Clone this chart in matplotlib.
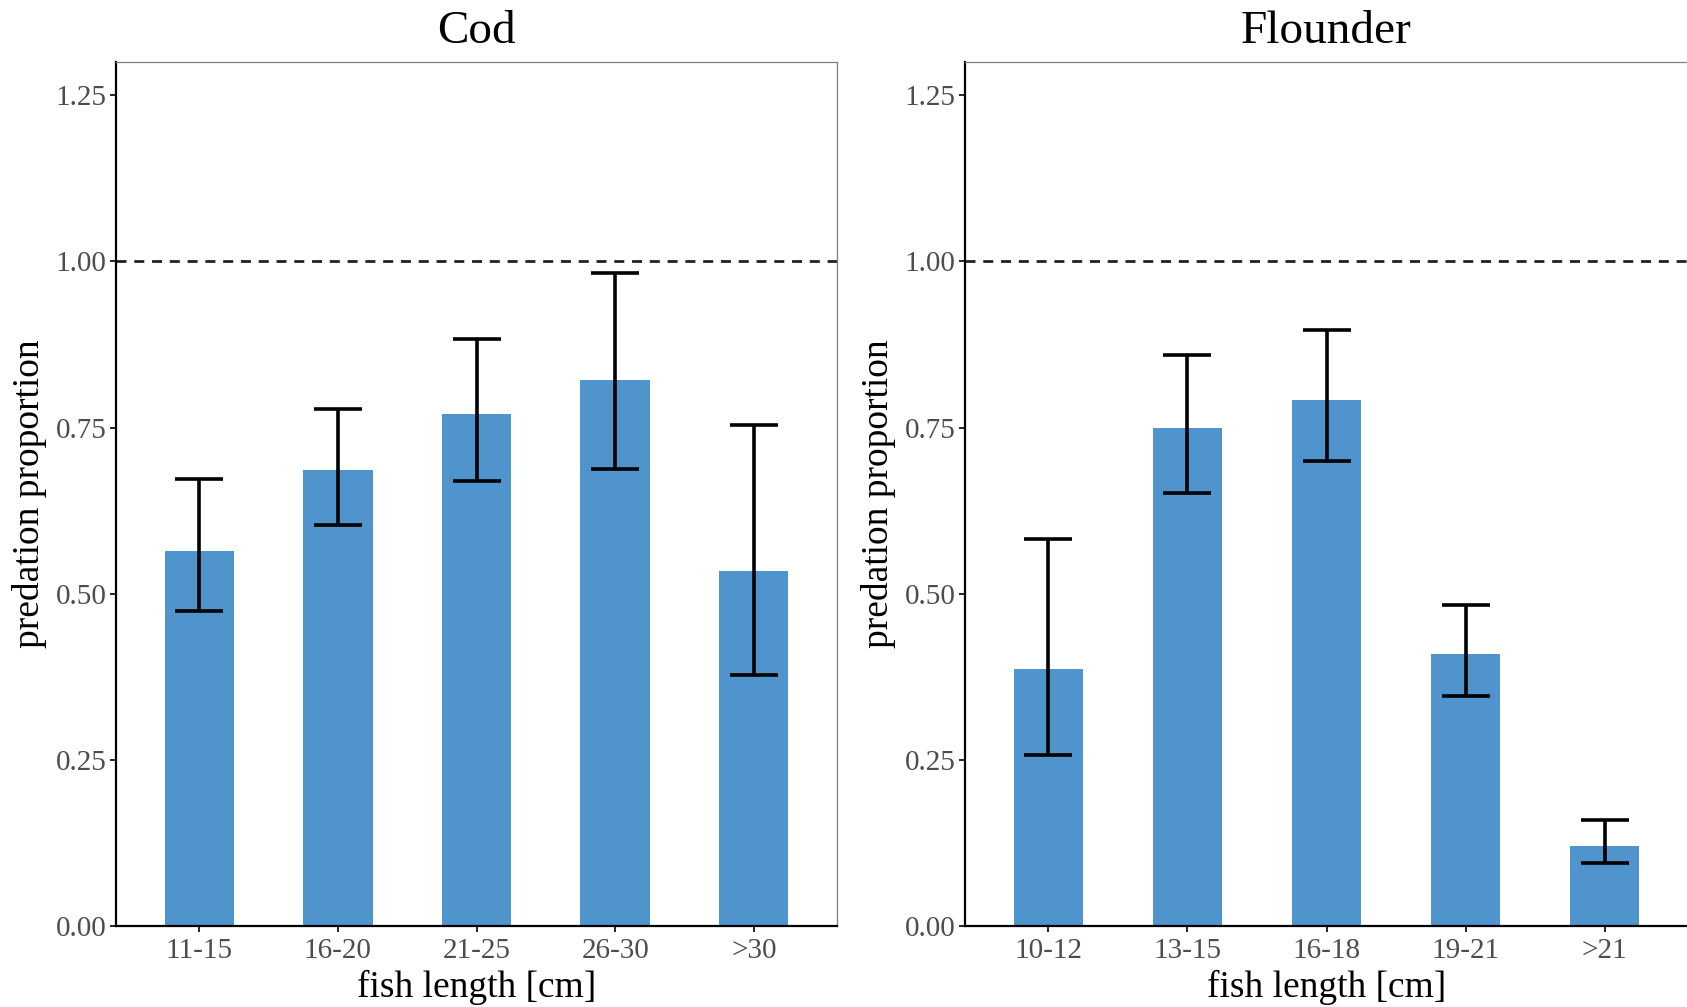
import matplotlib
matplotlib.use("Agg")
import matplotlib.pyplot as plt

plt.rcParams['font.family'] = ['Liberation Serif', 'DejaVu Serif']

# values
cod_labels = ['11-15', '16-20', '21-25', '26-30', '>30']
cod_mean = [0.564, 0.686, 0.770, 0.821, 0.534]
cod_low = [0.474, 0.603, 0.669, 0.687, 0.378]
cod_high = [0.673, 0.778, 0.883, 0.982, 0.754]

flounder_labels = ['10-12', '13-15', '16-18', '19-21', '>21']
flounder_mean = [0.386, 0.749, 0.792, 0.409, 0.121]
flounder_low = [0.257, 0.652, 0.700, 0.346, 0.095]
flounder_high = [0.582, 0.859, 0.897, 0.483, 0.160]

bar_color = '#4F94CD'
W, H = 1687, 1007


def draw_panel(ax, title, labels, mean, low, high):
    x = list(range(1, len(labels) + 1))
    ax.bar(x, mean, width=0.5, color=bar_color, zorder=2)
    yerr = [[m - l for m, l in zip(mean, low)], [h - m for m, h in zip(mean, high)]]
    ax.errorbar(x, mean, yerr=yerr, fmt='none', ecolor='black', elinewidth=2.6,
                capsize=17, capthick=2.6, zorder=3)
    ax.axhline(1.0, color='#222222', linestyle=(0, (3.6, 2.8)), linewidth=2.0, zorder=1)

    ax.set_xlim(0.4, len(labels) + 0.6)
    ax.set_ylim(0, 1.3)
    ax.set_xticks(x)
    ax.set_xticklabels(labels)
    ax.set_yticks([0, 0.25, 0.5, 0.75, 1.0, 1.25])
    ax.set_yticklabels(['0.00', '0.25', '0.50', '0.75', '1.00', '1.25'])
    ax.tick_params(axis='both', labelsize=21, labelcolor='#4D4D4D', color='black',
                   length=4, width=1.2, direction='out', pad=3)
    ax.tick_params(axis='x', pad=5)

    for side in ['left', 'bottom']:
        ax.spines[side].set_color('black')
        ax.spines[side].set_linewidth(1.6)
    for side in ['top', 'right']:
        ax.spines[side].set_color('#7F7F7F')
        ax.spines[side].set_linewidth(0.9)

    ax.set_title(title, fontsize=34, pad=14)
    ax.set_xlabel('fish length [cm]', fontsize=27, labelpad=4)
    ax.set_ylabel('predation proportion', fontsize=27, labelpad=6)


fig = plt.figure(figsize=(W / 100, H / 100), dpi=100)
ax1 = fig.add_axes([116 / W, 1 - 926 / H, 721 / W, 864 / H])
ax2 = fig.add_axes([965 / W, 1 - 926 / H, 723 / W, 864 / H])

draw_panel(ax1, 'Cod', cod_labels, cod_mean, cod_low, cod_high)
draw_panel(ax2, 'Flounder', flounder_labels, flounder_mean, flounder_low, flounder_high)

fig.savefig('out.png', dpi=100)
